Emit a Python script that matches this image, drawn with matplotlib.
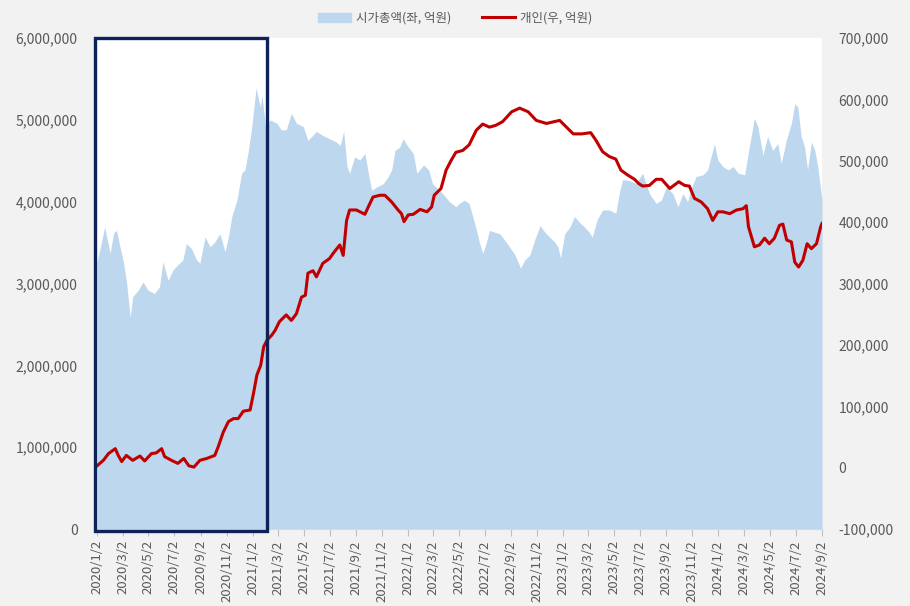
import matplotlib
matplotlib.use("Agg")
import matplotlib.pyplot as plt
import matplotlib.patches as mpatches
from matplotlib.lines import Line2D
from matplotlib.ticker import FuncFormatter
import pandas as pd

plt.rcParams['font.family'] = ['Noto Sans CJK KR', 'DejaVu Sans']

# 시가총액 (left axis, 억원)
cap_dates = [
    "2020-01-02", "2020-01-20", "2020-02-02", "2020-02-10", "2020-02-17", "2020-02-25",
    "2020-03-03", "2020-03-11", "2020-03-20", "2020-03-26", "2020-04-08", "2020-04-19",
    "2020-05-01", "2020-05-16", "2020-05-28", "2020-06-05", "2020-06-17", "2020-06-29",
    "2020-07-10", "2020-07-22", "2020-07-30", "2020-08-11", "2020-08-23", "2020-08-31",
    "2020-09-12", "2020-09-24", "2020-10-05", "2020-10-17", "2020-10-29", "2020-11-06",
    "2020-11-14", "2020-11-26", "2020-12-07", "2020-12-15", "2020-12-23", "2020-12-31",
    "2021-01-10", "2021-01-20", "2021-01-24", "2021-02-01", "2021-02-12", "2021-02-28",
    "2021-03-10", "2021-03-22", "2021-04-03", "2021-04-15", "2021-05-01", "2021-05-12",
    "2021-06-01", "2021-06-16", "2021-07-02", "2021-07-18", "2021-07-27", "2021-08-04",
    "2021-08-12", "2021-08-18", "2021-08-30", "2021-09-11", "2021-09-23", "2021-10-01",
    "2021-10-09", "2021-10-20", "2021-11-05", "2021-11-17", "2021-11-25", "2021-12-03",
    "2021-12-14", "2021-12-22", "2022-01-03", "2022-01-15", "2022-01-23", "2022-02-08",
    "2022-02-20", "2022-03-01", "2022-03-13", "2022-03-25", "2022-04-10", "2022-04-25",
    "2022-05-03", "2022-05-15", "2022-05-26", "2022-06-08", "2022-06-19", "2022-06-27",
    "2022-07-05", "2022-07-13", "2022-07-24", "2022-08-06", "2022-08-18", "2022-08-29",
    "2022-09-11", "2022-09-24", "2022-10-04", "2022-10-16", "2022-10-27", "2022-11-09",
    "2022-11-20", "2022-12-01", "2022-12-13", "2022-12-21", "2022-12-27", "2023-01-06",
    "2023-01-18", "2023-01-29", "2023-02-11", "2023-02-22", "2023-03-04", "2023-03-12",
    "2023-03-23", "2023-04-05", "2023-04-21", "2023-05-06", "2023-05-14", "2023-05-22",
    "2023-06-07", "2023-06-23", "2023-07-08", "2023-07-24", "2023-08-09", "2023-08-21",
    "2023-09-02", "2023-09-17", "2023-09-29", "2023-10-11", "2023-10-22", "2023-10-30",
    "2023-11-11", "2023-11-27", "2023-12-08", "2023-12-16", "2023-12-24", "2024-01-01",
    "2024-01-13", "2024-01-25", "2024-02-06", "2024-02-18", "2024-03-04", "2024-03-15",
    "2024-03-27", "2024-04-04", "2024-04-16", "2024-04-27", "2024-05-09", "2024-05-21",
    "2024-05-29", "2024-06-10", "2024-06-22", "2024-06-30", "2024-07-07", "2024-07-15",
    "2024-07-23", "2024-07-30", "2024-08-08", "2024-08-16", "2024-08-23", "2024-09-02",
]
cap_values = [
    3260000, 3690000, 3370000, 3620000, 3650000, 3450000,
    3290000, 3040000, 2590000, 2840000, 2920000, 3020000,
    2920000, 2880000, 2960000, 3270000, 3040000, 3170000,
    3230000, 3290000, 3490000, 3430000, 3290000, 3250000,
    3570000, 3450000, 3510000, 3610000, 3390000, 3570000,
    3820000, 4020000, 4350000, 4390000, 4630000, 4920000,
    5390000, 5160000, 5300000, 4920000, 5000000, 4960000,
    4880000, 4880000, 5080000, 4960000, 4920000, 4750000,
    4860000, 4810000, 4770000, 4730000, 4690000, 4860000,
    4430000, 4350000, 4550000, 4510000, 4590000, 4350000,
    4140000, 4180000, 4220000, 4310000, 4390000, 4630000,
    4670000, 4770000, 4670000, 4590000, 4350000, 4450000,
    4390000, 4220000, 4160000, 4100000, 4000000, 3940000,
    3980000, 4020000, 3980000, 3740000, 3510000, 3370000,
    3490000, 3650000, 3630000, 3610000, 3530000, 3450000,
    3350000, 3190000, 3290000, 3350000, 3530000, 3710000,
    3630000, 3570000, 3510000, 3450000, 3310000, 3610000,
    3690000, 3820000, 3740000, 3690000, 3630000, 3570000,
    3780000, 3900000, 3900000, 3860000, 4100000, 4270000,
    4260000, 4220000, 4350000, 4100000, 3980000, 4020000,
    4180000, 4100000, 3940000, 4100000, 4000000, 4160000,
    4310000, 4330000, 4390000, 4550000, 4710000, 4510000,
    4430000, 4390000, 4430000, 4350000, 4330000, 4670000,
    5020000, 4920000, 4570000, 4800000, 4630000, 4710000,
    4470000, 4750000, 4960000, 5200000, 5160000, 4800000,
    4670000, 4390000, 4730000, 4630000, 4430000, 4020000,
]

# 개인 누적 순매수 (right axis, 억원)
ind_dates = [
    "2020-01-02", "2020-01-17", "2020-01-29", "2020-02-14", "2020-02-21", "2020-02-29",
    "2020-03-11", "2020-03-26", "2020-04-12", "2020-04-23", "2020-05-09", "2020-05-20",
    "2020-06-02", "2020-06-09", "2020-06-25", "2020-07-10", "2020-07-24", "2020-08-05",
    "2020-08-17", "2020-08-31", "2020-09-16", "2020-10-05", "2020-10-13", "2020-10-25",
    "2020-11-06", "2020-11-18", "2020-11-29", "2020-12-11", "2020-12-27", "2021-01-04",
    "2021-01-12", "2021-01-21", "2021-01-28", "2021-02-05", "2021-02-16", "2021-02-24",
    "2021-03-06", "2021-03-22", "2021-04-03", "2021-04-15", "2021-04-27", "2021-05-06",
    "2021-05-12", "2021-05-24", "2021-06-01", "2021-06-16", "2021-07-02", "2021-07-10",
    "2021-07-26", "2021-08-03", "2021-08-11", "2021-08-18", "2021-09-03", "2021-09-23",
    "2021-10-01", "2021-10-12", "2021-10-28", "2021-11-09", "2021-11-25", "2021-12-10",
    "2021-12-18", "2021-12-24", "2022-01-03", "2022-01-15", "2022-01-31", "2022-02-16",
    "2022-02-27", "2022-03-05", "2022-03-21", "2022-04-02", "2022-04-14", "2022-04-25",
    "2022-05-11", "2022-05-26", "2022-06-12", "2022-06-27", "2022-07-13", "2022-07-28",
    "2022-08-13", "2022-09-03", "2022-09-22", "2022-10-12", "2022-10-31", "2022-11-24",
    "2022-12-25", "2023-01-10", "2023-01-26", "2023-02-15", "2023-03-08", "2023-03-20",
    "2023-04-05", "2023-04-21", "2023-05-06", "2023-05-18", "2023-06-03", "2023-06-19",
    "2023-06-29", "2023-07-08", "2023-07-24", "2023-08-09", "2023-08-22", "2023-09-10",
    "2023-10-01", "2023-10-15", "2023-10-26", "2023-11-07", "2023-11-23", "2023-12-08",
    "2023-12-20", "2024-01-01", "2024-01-13", "2024-01-29", "2024-02-14", "2024-02-29",
    "2024-03-08", "2024-03-13", "2024-03-27", "2024-04-08", "2024-04-20", "2024-05-01",
    "2024-05-13", "2024-05-25", "2024-06-02", "2024-06-11", "2024-06-22", "2024-06-30",
    "2024-07-09", "2024-07-19", "2024-07-29", "2024-08-08", "2024-08-20", "2024-08-30",
    "2024-09-02",
]
ind_values = [
    3000, 12000, 23000, 31000, 20000, 10000,
    20000, 12000, 19000, 11000, 23000, 24000,
    31000, 18000, 12000, 7000, 15000, 3000,
    1000, 12000, 15000, 20000, 34000, 58000,
    75000, 80000, 80000, 92000, 94000, 121000,
    151000, 167000, 197000, 208000, 216000, 224000,
    238000, 249000, 240000, 251000, 278000, 281000,
    317000, 321000, 311000, 333000, 341000, 349000,
    363000, 346000, 403000, 420000, 420000, 413000,
    425000, 441000, 444000, 444000, 433000, 420000,
    414000, 401000, 412000, 413000, 421000, 417000,
    425000, 444000, 455000, 485000, 501000, 514000,
    517000, 526000, 550000, 560000, 555000, 558000,
    564000, 580000, 586000, 580000, 566000, 561000,
    566000, 555000, 544000, 544000, 546000, 534000,
    515000, 507000, 503000, 485000, 477000, 470000,
    463000, 459000, 460000, 470000, 470000, 455000,
    466000, 460000, 459000, 439000, 433000, 422000,
    403000, 417000, 417000, 414000, 420000, 422000,
    427000, 393000, 360000, 363000, 374000, 365000,
    374000, 395000, 397000, 371000, 368000, 335000,
    327000, 338000, 365000, 357000, 365000, 393000,
    398000,
]

cap_x = pd.to_datetime(cap_dates)
ind_x = pd.to_datetime(ind_dates)
tick_dates = pd.date_range("2020-01-01", "2024-09-01", freq="2MS") + pd.Timedelta(days=1)

fig = plt.figure(figsize=(9.1, 6.06), dpi=100, facecolor="#f2f2f2")
ax = fig.add_axes([0.1066, 0.127, 0.7967, 0.810])
ax.set_facecolor("white")
ax2 = ax.twinx()

ax.fill_between(cap_x, cap_values, 0, color="#bdd7ee", linewidth=0)
ax2.plot(ind_x, ind_values, color="#c00000", linewidth=2.2)

ax.set_xlim(pd.Timestamp("2020-01-02"), pd.Timestamp("2024-09-02"))
ax.set_ylim(0, 6000000)
ax2.set_ylim(-100000, 700000)
ax.set_yticks(range(0, 6000001, 1000000))
ax2.set_yticks(range(-100000, 700001, 100000))

fmt = FuncFormatter(lambda v, p: f"{int(v):,}")
ax.yaxis.set_major_formatter(fmt)
ax2.yaxis.set_major_formatter(fmt)

ax.set_xticks(tick_dates)
ax.set_xticklabels([f"{d.year}/{d.month}/{d.day}" for d in tick_dates], rotation=90)

tc = "#595959"
ax.tick_params(axis="x", colors="#bfbfbf", labelcolor=tc, labelsize=9.5, length=5, pad=3)
ax.tick_params(axis="y", length=0, labelcolor=tc, labelsize=10, pad=14)
ax2.tick_params(axis="y", length=0, labelcolor=tc, labelsize=10, pad=12)

for a in (ax, ax2):
    for s in a.spines.values():
        s.set_visible(False)
ax.spines["bottom"].set_visible(True)
ax.spines["bottom"].set_color("#d9d9d9")

# highlight box around 2020 ~ early 2021
box = mpatches.Rectangle((-0.0034, -0.005), 0.2372, 1.006, transform=ax.transAxes,
                         fill=False, edgecolor="#0d2259", linewidth=2.4, clip_on=False, zorder=5)
ax2.add_patch(box)

handles = [mpatches.Patch(color="#bdd7ee"),
           Line2D([0], [0], color="#c00000", linewidth=2.2)]
fig.legend(handles, ["시가총액(좌, 억원)", "개인(우, 억원)"], loc="center",
           bbox_to_anchor=(0.5, 0.97), ncol=2, frameon=False, fontsize=9,
           labelcolor=tc, handlelength=2.6, handleheight=0.7, columnspacing=2.5,
           handletextpad=0.4)

fig.savefig("out.png", dpi=100, facecolor=fig.get_facecolor())
